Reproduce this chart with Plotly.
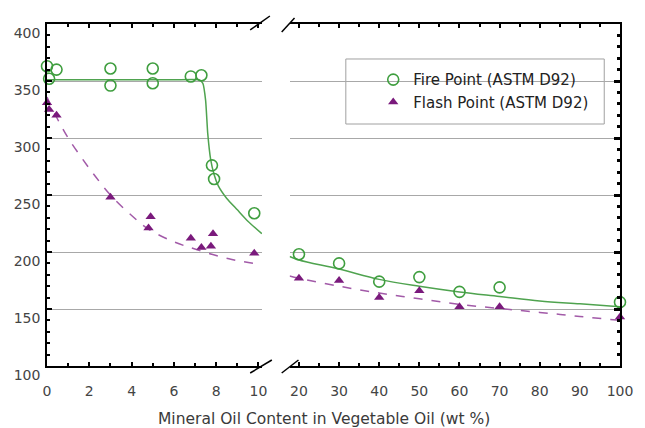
import plotly.graph_objects as go

# ---- measured data: fire point (open circles) and flash point (triangles) ----
fire_x_low = [0, 0.1, 0.45, 3, 3, 5, 5, 6.8, 7.3, 7.8, 7.9, 9.8]
fire_y_low = [363, 352, 360, 361, 346, 361, 348, 354, 355, 276, 264, 234]
fire_x_high = [20, 30, 40, 50, 60, 70, 100]
fire_y_high = [198, 190, 174, 178, 165, 169, 156]

flash_x_low = [0, 0.1, 0.45, 3, 4.9, 4.8, 6.8, 7.3, 7.75, 7.85, 9.8]
flash_y_low = [331, 325, 320, 248, 231, 221, 212, 204, 205, 216, 199]
flash_x_high = [20, 30, 40, 50, 60, 70, 100]
flash_y_high = [177, 175, 160, 166, 152, 152, 143]

# ---- fitted trend curves ----
fire_fit_x_low = [0, 2, 4, 6, 7.2, 7.37, 7.5, 7.6, 7.74, 7.9, 8.1, 8.5, 9.0, 9.5, 10.16]
fire_fit_y_low = [351, 351, 351, 351, 351, 348, 333, 304, 281, 268, 258, 247, 237, 227, 216]
fire_fit_x_high = [17.67, 20, 30, 40, 50, 60, 70, 80, 90, 100]
fire_fit_y_high = [196, 193, 185, 176, 170, 165, 161, 157, 154.5, 152]

flash_fit_x_low = [0, 0.3, 0.6, 1, 1.7, 2.3, 3, 4, 4.8, 6, 7.1, 8.6, 10.16]
flash_fit_y_low = [336, 324, 313, 300, 281, 266, 250, 232, 220, 209, 202, 194, 189]
flash_fit_x_high = [17.67, 20, 30, 40, 50, 60, 70, 80, 90, 100]
flash_fit_y_high = [179, 177, 170, 164, 159, 154, 150.5, 147, 143.5, 140]

y_ticks = [100, 150, 200, 250, 300, 350, 400]
x_ticks_low = [0, 2, 4, 6, 8, 10]
x_ticks_high = [20, 30, 40, 50, 60, 70, 80, 90, 100]

GREEN = "#3f9e3f"
GREEN_LINE = "#4fa34f"
PURPLE = "#7a1a7c"
PURPLE_LINE = "#a25aa8"
FONT = "DejaVu Sans"

fig = go.Figure()

# trend lines
fig.add_trace(go.Scatter(x=fire_fit_x_low, y=fire_fit_y_low, mode="lines",
                         line=dict(color=GREEN_LINE, width=1.5, shape="spline", smoothing=0.5),
                         showlegend=False, hoverinfo="skip", xaxis="x", yaxis="y"))
fig.add_trace(go.Scatter(x=flash_fit_x_low, y=flash_fit_y_low, mode="lines",
                         line=dict(color=PURPLE_LINE, width=1.5, dash="dash", shape="spline"),
                         showlegend=False, hoverinfo="skip", xaxis="x", yaxis="y"))
fig.add_trace(go.Scatter(x=fire_fit_x_high, y=fire_fit_y_high, mode="lines",
                         line=dict(color=GREEN_LINE, width=1.5, shape="spline"),
                         showlegend=False, hoverinfo="skip", xaxis="x2", yaxis="y2"))
fig.add_trace(go.Scatter(x=flash_fit_x_high, y=flash_fit_y_high, mode="lines",
                         line=dict(color=PURPLE_LINE, width=1.5, dash="dash", shape="spline"),
                         showlegend=False, hoverinfo="skip", xaxis="x2", yaxis="y2"))

# measured points
circle = dict(symbol="circle-open", size=11, color=GREEN, line=dict(width=1.6, color=GREEN))
tri = dict(symbol="triangle-up", size=9, color=PURPLE)

fig.add_trace(go.Scatter(x=fire_x_low, y=fire_y_low, mode="markers", marker=circle,
                         name="Fire Point (ASTM D92)", legendgroup="fire",
                         cliponaxis=False, xaxis="x", yaxis="y"))
fig.add_trace(go.Scatter(x=flash_x_low, y=flash_y_low, mode="markers", marker=tri,
                         name="Flash Point (ASTM D92)", legendgroup="flash",
                         cliponaxis=False, xaxis="x", yaxis="y"))
fig.add_trace(go.Scatter(x=fire_x_high, y=fire_y_high, mode="markers", marker=circle,
                         showlegend=False, legendgroup="fire",
                         cliponaxis=False, xaxis="x2", yaxis="y2"))
fig.add_trace(go.Scatter(x=flash_x_high, y=flash_y_high, mode="markers", marker=tri,
                         showlegend=False, legendgroup="flash",
                         cliponaxis=False, xaxis="x2", yaxis="y2"))

tickfont = dict(family=FONT, size=14, color="#444444")
grid = dict(showgrid=True, gridcolor="#a8a8a8", gridwidth=1)

common_x = dict(showline=True, linecolor="black", linewidth=1.5, mirror="ticks",
                ticks="inside", ticklen=4, tickcolor="black", tickwidth=1.5,
                showgrid=False, zeroline=False, tickfont=tickfont, ticklabelstandoff=11)

fig.update_layout(
    width=645, height=428,
    margin=dict(l=47, r=17, t=24, b=62),
    paper_bgcolor="white", plot_bgcolor="white",
    xaxis=dict(domain=[0, 0.375], range=[0, 10.16], anchor="y",
               tickvals=x_ticks_low,
               minor=dict(dtick=1, tick0=0, ticks="inside", ticklen=3, tickcolor="black"),
               **common_x),
    xaxis2=dict(domain=[0.4234, 1], range=[17.67, 100], anchor="y2",
                tickvals=x_ticks_high,
                minor=dict(dtick=5, tick0=20, ticks="inside", ticklen=3, tickcolor="black"),
                **common_x),
    yaxis=dict(range=[100, 400], anchor="x", tickvals=y_ticks,
               showline=True, linecolor="black", linewidth=1.5,
               ticks="inside", ticklen=5, tickwidth=2, tickcolor="black",
               minor=dict(dtick=10, tick0=100, ticks="inside", ticklen=3, tickcolor="black"),
               zeroline=False, tickfont=tickfont, ticklabelshift=9, ticklabelstandoff=2,
               **grid),
    yaxis2=dict(range=[100, 400], anchor="x2", side="right", tickvals=y_ticks,
                showticklabels=False,
                showline=True, linecolor="black", linewidth=1.5,
                ticks="inside", ticklen=6, tickwidth=3, tickcolor="black",
                minor=dict(dtick=10, tick0=100, ticks="inside", ticklen=3, tickcolor="black"),
                zeroline=False, **grid),
    legend=dict(x=0.955, y=0.885, xanchor="right", yanchor="top",
                bgcolor="rgba(0,0,0,0)", borderwidth=0,
                font=dict(family=FONT, size=15, color="#222222"),
                tracegroupgap=0, itemsizing="trace", itemwidth=30),
    showlegend=True,
)

# legend frame
fig.add_shape(type="rect", xref="paper", yref="paper",
              x0=0.5215, x1=0.9725, y0=0.7076, y1=0.8977,
              fillcolor="white", line=dict(color="#a0a0a0", width=1), layer="between")

# axis title
fig.add_annotation(text="Mineral Oil Content in Vegetable Oil (wt %)",
                   xref="paper", yref="paper", x=0.483, y=-0.154,
                   xanchor="center", yanchor="middle", showarrow=False,
                   font=dict(family=FONT, size=15.5, color="#3a3a3a"))

# axis-break marks between the two panels
for x0, x1, y0, y1 in [(0.3546, 0.389, 0.9825, 1.0234), (0.4096, 0.432, 0.9766, 1.0175),
                       (0.3546, 0.3924, -0.0205, 0.0175), (0.4096, 0.4389, -0.0205, 0.0175)]:
    fig.add_shape(type="line", xref="paper", yref="paper", x0=x0, x1=x1, y0=y0, y1=y1,
                  line=dict(color="black", width=1.5))

fig.write_html("out.html")
